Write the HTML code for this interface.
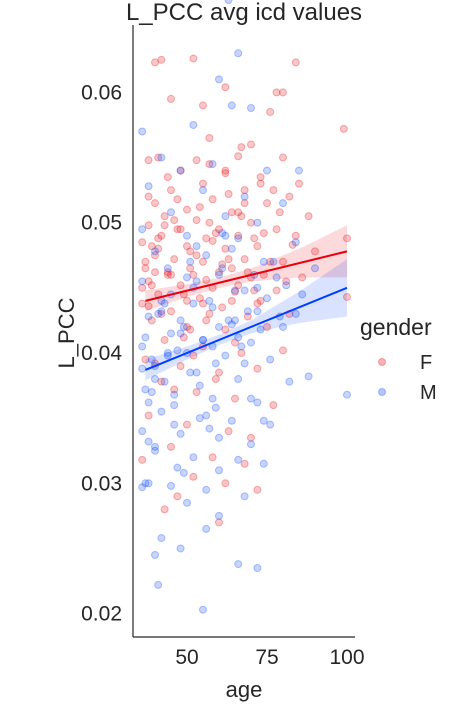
<!DOCTYPE html>
<html><head><meta charset="utf-8"><style>
body{margin:0;background:#fff;}
svg text{font-family:"Liberation Sans",sans-serif;fill:#262626;}
</style></head><body>
<svg id="chart" width="457" height="720">
<text x="244" y="20" text-anchor="middle" font-size="24">L_PCC avg icd values</text>
<g id="bands"></g><g id="points"></g><g id="lines"></g><g id="axes"></g>
<text x="244" y="697" text-anchor="middle" font-size="22">age</text>
<text transform="translate(74,333) rotate(-90)" text-anchor="middle" font-size="22">L_PCC</text>
<g>
<text x="360" y="335" font-size="23">gender</text>
<circle cx="382" cy="362" r="3.5" fill="rgba(232,0,11,0.3)" stroke="rgba(232,0,11,0.3)"/>
<text x="420" y="369" font-size="20">F</text>
<circle cx="382" cy="392" r="3.5" fill="rgba(2,62,255,0.3)" stroke="rgba(2,62,255,0.3)"/>
<text x="420" y="399" font-size="20">M</text>
</g>
</svg>
<script>
const xTicks=[50,75,100];
const yTicks=[0.02,0.03,0.04,0.05,0.06];
const fAge=[40,42,52,84,62,78,80,45,55,76,99,57,70,41,53,66,80,38,48,62,73,85,55,45,68,82,40,58,75,50,64,88,100,43,53,70,38,47,60,78,42,56,66,84,36,50,62,72,90,40,46,55,68,80,37,44,52,60,74,86,38,48,58,66,78,100,41,54,64,72,36,45,57,69,82,39,50,62,75,43,55,67,80,37,48,60,72,42,53,65,77,38,50,63,70,45,58,68,36,52,62,72,47,43,60,
37,39,41,44,46,49,51,54,56,59,61,63,65,67,69,71,73,76,79,81,83,38,40,43,47,50,53,57,61,64,68,71,74,77,36,39,42,45,48,51,55,58,63,66,70,73,38,41,44,49,52,56,59,65,40,46,51,57,62,67];
const fVal=[0.0623,0.0625,0.0626,0.0623,0.0604,0.0600,0.0600,0.0595,0.0590,0.0585,0.0572,0.0565,0.0560,0.0550,0.0548,0.0551,0.0550,0.0548,0.0540,0.0540,0.0535,0.0530,0.0530,0.0525,0.0525,0.0520,0.0515,0.0518,0.0515,0.0510,0.0508,0.0505,0.0488,0.0505,0.0502,0.0500,0.0498,0.0495,0.0495,0.0495,0.0490,0.0488,0.0490,0.0490,0.0485,0.0482,0.0480,0.0482,0.0478,0.0475,0.0472,0.0470,0.0472,0.0470,0.0465,0.0462,0.0460,0.0462,0.0460,0.0458,0.0455,0.0452,0.0450,0.0452,0.0448,0.0443,0.0445,0.0442,0.0440,0.0438,0.0438,0.0432,0.0430,0.0428,0.0430,0.0425,0.0420,0.0418,0.0420,0.0410,0.0405,0.0400,0.0402,0.0395,0.0390,0.0385,0.0388,0.0378,0.0370,0.0365,0.0360,0.0352,0.0345,0.0340,0.0335,0.0328,0.0320,0.0315,0.0318,0.0305,0.0300,0.0295,0.0290,0.0280,0.0270,
0.0470,0.0452,0.0488,0.0460,0.0502,0.0445,0.0478,0.0512,0.0456,0.0492,0.0468,0.0522,0.0447,0.0505,0.0462,0.0488,0.0530,0.0470,0.0508,0.0455,0.0483,0.0436,0.0462,0.0498,0.0518,0.0440,0.0475,0.0500,0.0435,0.0465,0.0515,0.0448,0.0492,0.0525,0.0450,0.0482,0.0430,0.0460,0.0495,0.0465,0.0438,0.0486,0.0472,0.0508,0.0458,0.0440,0.0520,0.0480,0.0535,0.0412,0.0398,0.0425,0.0380,0.0408,0.0392,0.0372,0.0418,0.0545,0.0538,0.0558];
const mAge=[66,60,64,70,52,36,42,48,58,75,85,38,55,68,80,45,62,72,36,50,66,84,40,56,74,90,44,60,78,36,52,68,86,42,58,72,38,48,64,80,100,45,55,70,36,50,62,76,88,40,53,66,82,37,46,58,72,42,54,64,76,36,48,60,70,40,52,66,74,38,45,56,68,36,50,60,42,40,56,48,66,72,41,55,37,46,60,84,
37,39,41,43,45,47,49,51,53,55,57,59,61,63,65,67,69,71,73,75,77,79,81,38,40,44,48,52,56,60,64,68,72,36,39,42,46,50,54,58,62,66,70,74,38,43,47,51,57,61,65,40,44,49,53,59,63];
const mVal=[0.0630,0.0610,0.0590,0.0588,0.0575,0.0570,0.0550,0.0540,0.0545,0.0540,0.0540,0.0528,0.0525,0.0520,0.0515,0.0508,0.0505,0.0500,0.0495,0.0490,0.0488,0.0485,0.0478,0.0475,0.0470,0.0465,0.0465,0.0460,0.0458,0.0455,0.0450,0.0448,0.0445,0.0440,0.0435,0.0432,0.0428,0.0425,0.0422,0.0420,0.0368,0.0415,0.0410,0.0408,0.0405,0.0400,0.0398,0.0395,0.0382,0.0390,0.0385,0.0380,0.0378,0.0372,0.0368,0.0365,0.0362,0.0355,0.0350,0.0348,0.0345,0.0340,0.0338,0.0335,0.0330,0.0325,0.0320,0.0318,0.0315,0.0300,0.0298,0.0295,0.0290,0.0297,0.0285,0.0275,0.0258,0.0245,0.0265,0.0250,0.0238,0.0235,0.0222,0.0203,0.0300,0.0360,0.0310,0.0430,
0.0412,0.0395,0.0430,0.0378,0.0445,0.0402,0.0420,0.0385,0.0455,0.0410,0.0440,0.0392,0.0465,0.0425,0.0448,0.0405,0.0432,0.0460,0.0418,0.0442,0.0470,0.0428,0.0452,0.0362,0.0380,0.0400,0.0415,0.0438,0.0352,0.0420,0.0480,0.0392,0.0450,0.0388,0.0370,0.0432,0.0345,0.0458,0.0375,0.0405,0.0490,0.0412,0.0365,0.0348,0.0332,0.0438,0.0312,0.0470,0.0342,0.0492,0.0425,0.0328,0.0398,0.0308,0.0482,0.0358];
const fitAge=[37,100];
const fFit=[0.0440,0.0478];
const mFit=[0.0387,0.0450];
const bandAge=[37,50,60,70,85,100];
const fBand=[0.0008,0.0005,0.0004,0.0005,0.0011,0.0020];
const mBand=[0.0008,0.0005,0.0004,0.0005,0.0012,0.0022];

const NS="http://www.w3.org/2000/svg";
const X=a=>139+(a-35)*3.2;
const Y=v=>353-(v-0.04)*13030;
function mk(t,p,attrs){const e=document.createElementNS(NS,t);for(const k in attrs)e.setAttribute(k,attrs[k]);p.appendChild(e);return e;}
const ax=document.getElementById('axes');
let sp=mk('line',ax,{x1:133,y1:25,x2:133,y2:637,stroke:'#262626','stroke-width':1.2});


sp=mk('line',ax,{x1:133,y1:637,x2:355,y2:637,stroke:'#262626','stroke-width':1.2});


xTicks.forEach(t=>{const e=mk('text',ax,{x:X(t),y:664,'text-anchor':'middle','font-size':21});e.textContent=t;

});
yTicks.forEach(t=>{const e=mk('text',ax,{x:122,y:Y(t)+7,'text-anchor':'end','font-size':21});e.textContent=t.toFixed(2);

});
const lin=(fit,a)=>fit[0]+(fit[1]-fit[0])*(a-fitAge[0])/(fitAge[1]-fitAge[0]);
const pg=document.getElementById('points');
function pts(ages,vals,col,name){ages.forEach((a,i)=>{const c=mk('circle',pg,{cx:X(a),cy:Y(vals[i]),r:3.5,fill:col,'fill-opacity':0.22,stroke:col,'stroke-opacity':0.3});

});}
pts(fAge,fVal,'#e8000b','point-f');
pts(mAge,mVal,'#023eff','point-m');
const bg=document.getElementById('bands');
function band(fit,w,col,name){let up=bandAge.map((a,i)=>X(a)+','+Y(lin(fit,a)+w[i]));let lo=bandAge.map((a,i)=>X(a)+','+Y(lin(fit,a)-w[i])).reverse();
const p=mk('polygon',bg,{points:up.concat(lo).join(' '),fill:col,'fill-opacity':0.15});

}
band(fFit,fBand,'#e8000b','ci-band-f');
band(mFit,mBand,'#023eff','ci-band-m');
const lg=document.getElementById('lines');
let l=mk('line',lg,{x1:X(fitAge[0]),y1:Y(fFit[0]),x2:X(fitAge[1]),y2:Y(fFit[1]),stroke:'#e8000b','stroke-width':2});


l=mk('line',lg,{x1:X(fitAge[0]),y1:Y(mFit[0]),x2:X(fitAge[1]),y2:Y(mFit[1]),stroke:'#023eff','stroke-width':2});


</script>
</body></html>
